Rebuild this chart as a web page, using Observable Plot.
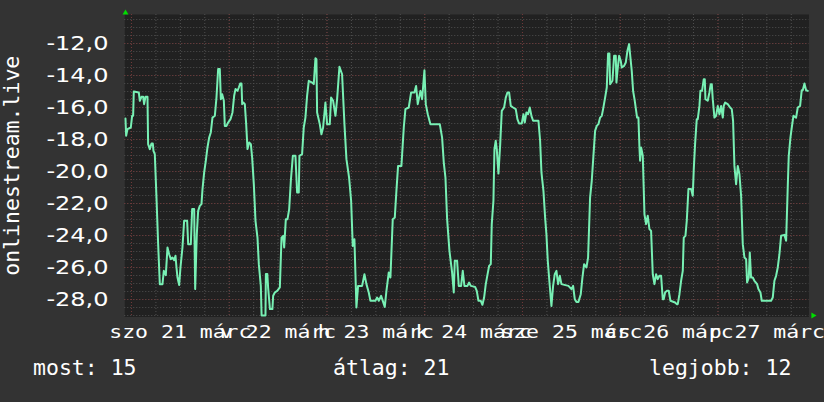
<!DOCTYPE html>
<html><head><meta charset="utf-8">
<script src="https://cdn.jsdelivr.net/npm/d3@7"></script>
<script src="https://cdn.jsdelivr.net/npm/@observablehq/plot@0.6"></script>
<style>
html,body{margin:0;padding:0;background:#333;}
#chart{width:824px;height:402px;overflow:hidden;}
</style></head><body><div id="chart"></div>
<script>
// hours since 2020-03-21 00:00 and the value at that time
const hours = [-1.47,-1.31,-0.98,-0.16,0.16,0.41,0.57,1.80,2.05,2.46,2.87,3.11,3.44,3.93,4.09,4.50,4.91,5.24,5.40,5.73,6.14,6.55,6.96,7.61,7.94,8.43,8.84,9.25,9.66,10.07,10.48,10.81,11.05,11.30,11.71,12.03,12.52,12.93,13.67,13.92,14.57,14.90,15.39,15.64,16.04,16.37,16.78,17.19,17.44,17.85,18.25,18.66,19.07,19.48,19.89,20.47,20.87,21.28,21.69,21.94,22.27,22.68,22.92,23.33,23.74,24.31,24.80,25.21,25.54,26.03,26.36,26.69,27.01,27.18,27.50,27.83,28.16,28.49,28.90,29.31,29.63,30.04,30.45,30.94,31.27,31.76,31.95,32.9,33.0,33.35,33.56,34.0,34.6,34.79,35.2,35.77,36.43,36.84,37.25,37.49,37.90,38.31,38.72,39.13,39.62,
40.26,40.67,41.08,41.24,41.89,42.30,42.71,43.12,43.53,44.35,44.76,45.17,45.41,45.58,46.23,46.64,47.05,47.62,48.03,48.69,49.01,49.51,50.08,50.49,51.06,51.71,52.29,52.78,53.43,53.93,54.33,54.74,55.23,55.64,56.63,57.20,57.69,58.26,58.67,59.90,60.31,60.72,61.29,62.19,62.6,63.17,63.58,64.15,64.65,65.05,65.46,66.28,66.86,67.26,68.08,68.66,69.47,69.88,70.29,70.95,71.36,71.93,72.26,72.75,73.40,75.70,76.27,76.68,77.09,77.50,78.07,78.72,79.13,79.38,79.95,80.36,80.93,81.34,81.75,
82.49,82.90,83.31,84.37,84.78,85.19,85.76,86.17,86.58,86.99,87.4,87.81,88.22,88.46,88.87,89.12,89.44,89.69,90.1,90.51,90.92,91.49,91.9,92.31,92.72,93.13,93.7,94.35,94.76,95.17,95.83,96.24,96.56,96.97,97.38,97.79,98.2,98.61,99.92,100.33,100.66,101.15,101.56,101.88,102.21,102.7,103.11,103.52,103.93,104.34,104.75,105.16,105.57,107.28,108.02,108.43,108.84,109.25,109.74,110.31,110.72,111.13,111.7,112.11,112.6,113.01,113.42,113.83,114.24,114.65,115.06,115.47,115.8,116.29,116.7,117.02,117.35,117.52,118.09,118.5,118.91,119.07,119.32,119.73,120.13,120.38,120.95,121.36,121.77,122.18,122.42,122.83,123.16,123.57,
124.14,124.47,124.72,124.88,125.13,125.54,125.95,126.35,126.76,127.17,127.58,127.99,128.4,128.81,129.22,129.63,130.04,130.45,130.69,131.02,131.43,131.92,132.33,133.47,133.88,134.13,134.54,134.95,135.36,135.6,136.01,136.34,136.75,137.4,137.81,138.06,138.38,138.79,139.04,139.45,139.69,140.1,140.51,140.76,140.92,141.49,141.9,142.23,142.48,142.72,143.13,143.54,143.95,144.36,144.77,145.18,145.42,145.75,146.4,146.98,147.39,147.71,148.04,148.45,148.86,149.27,149.68,150.09,150.5,150.91,151.15,151.56,151.81,152.13,152.54,152.95,153.61,153.93,154.43,154.75,157.04,157.45,157.86,158.27,158.68,159.09,159.5,160.32,160.73,161.14,161.38,161.79,162.12,162.53,163.18,163.59,164.16,164.57,164.82,165.23,165.64,166.05];
const values = [-16.69,-17.77,-17.35,-17.25,-16.52,-16.52,-15.0,-15.06,-15.58,-15.33,-15.33,-15.79,-15.33,-15.33,-18.29,-18.6,-18.25,-18.25,-18.71,-18.92,-21.63,-24.54,-27.04,-27.04,-26.21,-26.48,-24.75,-25.17,-25.48,-25.38,-25.54,-25.27,-26.0,-26.63,-27.1,-26.0,-24.75,-23.08,-23.08,-24.54,-24.54,-22.35,-22.35,-27.35,-23.92,-22.46,-22.15,-22.04,-21.10,-20.06,-19.33,-18.5,-17.88,-17.56,-16.63,-16.52,-15.38,-13.6,-13.6,-15.48,-15.17,-15.58,-17.15,-17.15,-16.94,-16.73,-16.31,-15.27,-14.85,-14.96,-14.75,-14.5,-14.5,-15.79,-15.69,-15.79,-17.04,-18.6,-18.19,-18.29,-19.13,-20.79,-23.08,-24.13,-25.79,-27.15,-29.0,-29.0,-26.4,-26.4,-27.29,-28.6,-28.6,-27.77,-27.56,-27.46,-27.25,-24.13,-24.02,-24.75,-22.98,-22.98,-22.35,-20.58,-19.02,
-19.02,-21.31,-21.31,-19.02,-18.92,-17.25,-16.63,-15.27,-14.33,-14.44,-14.54,-12.92,-12.98,-16.31,-17.04,-17.67,-17.25,-15.69,-17.04,-17.04,-15.38,-15.58,-16.52,-15.48,-13.46,-13.92,-17.04,-19.23,-20.38,-21.83,-24.65,-24.23,-28.5,-27.15,-27.15,-26.42,-27.04,-27.56,-28.08,-28.08,-27.88,-28.08,-27.77,-28.46,-27.46,-26.31,-26.63,-22.98,-22.88,-21.21,-19.65,-19.65,-17.25,-16.1,-16.0,-15.06,-15.06,-14.65,-15.79,-14.96,-15.48,-13.67,-15.79,-16.42,-17.04,-17.04,-17.88,-19.44,-20.38,-22.98,-24.96,-26.31,-27.56,-25.58,-25.58,-27.15,-27.15,-26.21,-27.15,
-27.15,-26.94,-27.15,-27.21,-27.46,-28.08,-28.08,-28.33,-27.88,-27.04,-26.46,-25.9,-25.79,-23.29,-21.83,-18.6,-18.08,-18.6,-20.13,-18.4,-16.21,-16.0,-15.38,-15.06,-15.06,-15.9,-16.0,-16.1,-16.73,-17.0,-17.0,-16.42,-16.94,-16.31,-16.42,-16.0,-16.52,-16.83,-16.83,-18.08,-20.06,-21.21,-22.88,-23.92,-25.58,-27.15,-28.4,-27.15,-26.42,-26.21,-27.04,-26.52,-27.04,-27.15,-27.35,-27.15,-27.98,-28.15,-28.15,-27.67,-26.63,-25.79,-26.0,-25.38,-21.63,-20.58,-19.02,-17.46,-17.15,-17.04,-16.63,-16.52,-16.1,-15.38,-14.75,-12.63,-12.63,-14.54,-14.33,-12.77,-12.77,-14.44,-13.71,-12.77,-13.08,-13.5,-13.4,-13.19,-12.46,-12.04,-12.67,-13.71,-14.96,-15.58,
-16.63,-16.63,-18.5,-19.33,-18.5,-19.02,-22.67,-23.29,-22.77,-23.6,-23.71,-26.42,-27.04,-26.42,-26.73,-26.52,-26.52,-27.98,-27.98,-27.56,-27.46,-27.46,-28.08,-28.19,-28.29,-28.29,-27.67,-26.83,-26.21,-24.13,-24.02,-23.08,-21.1,-21.1,-21.52,-19.85,-18.29,-16.73,-16.73,-15.9,-14.96,-14.96,-14.23,-14.23,-15.48,-15.58,-15.06,-14.54,-14.54,-15.48,-16.63,-16.52,-15.9,-16.42,-15.9,-16.63,-15.9,-15.69,-15.79,-16.0,-16.1,-16.83,-19.65,-20.79,-19.65,-20.17,-21.52,-24.54,-25.38,-25.48,-26.94,-26.63,-25.06,-26.63,-26.63,-26.83,-27.04,-27.35,-27.56,-28.08,-28.08,-27.88,-26.83,-26.52,-26.0,-25.17,-24.02,-23.96,-24.33,-20.9,-19.02,-17.88,-17.25,-16.52,-16.63,-16.0,-15.9,-14.92,-14.92,-14.5,-14.92,-14.96];

const yTicks = [-12,-14,-16,-18,-20,-22,-24,-26,-28];
const yTickLabels = ["-12,0","-14,0","-16,0","-18,0","-20,0","-22,0","-24,0","-26,0","-28,0"];
const xLabelHours = [12,36,60,84,108,132,156];
const xLabels = ["szo 21 márc","v 22 márc","h 23 márc","k 24 márc","sze 25 márc","cs 26 márc","p 27 márc"];
const xMajorHours = [0,24,48,72,96,120,144];
const seriesName = "onlinestream.live";
const legendLabels = ["most","átlag","legjobb"];
const legendValues = [15,21,12];

const data = hours.map((h, i) => ({h, v: values[i]}));
const xDomain = [-1.65, 166.35];
const yDomain = [-29.094, -10.1875];
const xMinor = d3.range(0, 167, 6);
const yMinor = d3.range(-29, -10.2, 0.5);
const yLabelMap = new Map(yTicks.map((t, i) => [t, yTickLabels[i]]));
const xLabelMap = new Map(xLabelHours.map((t, i) => [t, xLabels[i]]));

const mono = "'DejaVu Sans Mono', monospace";
const chart = Plot.plot({
  width: 824, height: 402,
  marginLeft: 124.25, marginRight: 15.5, marginTop: 14, marginBottom: 85.5,
  style: {background: "#333", color: "#fff", fontFamily: mono, fontSize: "21.5px"},
  x: {domain: xDomain},
  y: {domain: yDomain},
  marks: [
    Plot.frame({fill: "#212121", stroke: "none"}),
    Plot.ruleY(yMinor, {stroke: "#505050", strokeDasharray: "1 2"}),
    Plot.ruleX(xMinor, {stroke: "#505050", strokeDasharray: "1 2"}),
    Plot.ruleY(yTicks, {stroke: "#703838", strokeDasharray: "1 2"}),
    Plot.ruleX(xMajorHours, {stroke: "#703838", strokeDasharray: "1 2"}),
    Plot.line(data, {x: "h", y: "v", stroke: "#78f0b4", strokeWidth: 2}),
    Plot.axisY(yTicks, {tickSize: 0, tickPadding: 16.25, tickFormat: d => yLabelMap.get(d), fontFamily: "'DejaVu Sans', sans-serif", fontSize: 20, label: null}),
    Plot.axisX(xLabelHours, {tickSize: 0, tickPadding: 8, tickFormat: d => xLabelMap.get(d), fontFamily: mono, fontSize: 18.5, label: null}),
    Plot.dot([{}], {x: () => xDomain[0], y: () => yDomain[1], symbol: "triangle", r: 2.2, fill: "#00dd00", stroke: "none", dx: 0.75, dy: -1.6}),
    Plot.dot([{}], {x: () => xDomain[1], y: () => yDomain[0], symbol: "triangle", rotate: 90, r: 2.2, fill: "#00dd00", stroke: "none", dx: 4.1, dy: -1.5}),
    Plot.text([seriesName], {text: d => d, frameAnchor: "left", rotate: -90, textAnchor: "middle", dx: -112.85, fontSize: 21.5}),
    Plot.text([legendLabels[0] + ": " + legendValues[0]], {text: d => d, frameAnchor: "bottom-left", textAnchor: "start", dx: -91.75, dy: 57.6}),
    Plot.text([legendLabels[1] + ": " + legendValues[1]], {text: d => d, frameAnchor: "bottom-left", textAnchor: "start", dx: 208.25, dy: 57.6}),
    Plot.text([legendLabels[2] + ": " + legendValues[2]], {text: d => d, frameAnchor: "bottom-left", textAnchor: "start", dx: 524.25, dy: 57.6})
  ]
});
document.getElementById("chart").append(chart);
// widen axis glyphs like the reference
d3.select(chart).selectAll("g[aria-label='y-axis tick label'] text").each(function() {
  const w = this.getComputedTextLength();
  this.setAttribute("textLength", w * 1.2);
  this.setAttribute("lengthAdjust", "spacingAndGlyphs");
});
d3.select(chart).selectAll("g[aria-label='x-axis tick label'] text").each(function() {
  const w = this.getComputedTextLength();
  this.setAttribute("textLength", w * 1.16);
  this.setAttribute("lengthAdjust", "spacingAndGlyphs");
});
</script></body></html>
